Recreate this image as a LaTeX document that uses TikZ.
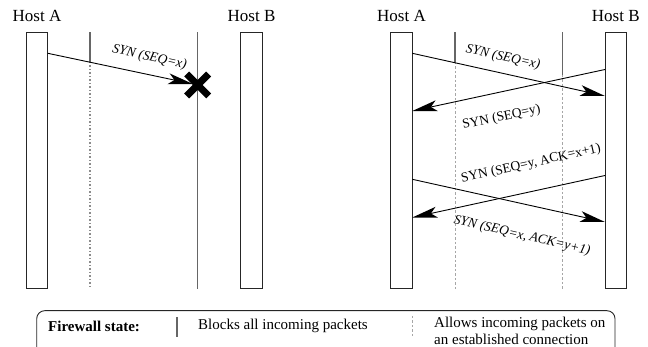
\documentclass[tikz,border=0pt]{standalone}
\usepackage{fontspec}
\setmainfont{Liberation Serif}
\usetikzlibrary{calc}
\begin{document}
\begin{tikzpicture}[x=1pt,y=-1pt,
  hostbar/.style={draw=black!85,line width=0.9pt,fill=white,minimum width=21.6pt,minimum height=256.7pt,inner sep=0pt,outer sep=0pt},
  hostlabel/.style={font=\fontsize{17}{20}\selectfont,inner sep=0pt},
  fwsolid/.style={draw=black!60,line width=1.4pt},
  fwdot/.style={draw=black!45,line width=1.2pt,dash pattern=on 1.5pt off 2pt},
  fwdash/.style={draw=black!35,line width=0.8pt,dash pattern=on 2.5pt off 2pt},
  msg/.style={draw=black,line width=0.9pt,shorten >=10pt},
  tip/.style={fill=black,draw=none},
  lbl/.style={font=\fontsize{13.5}{16}\selectfont,inner sep=0pt},
  lgd/.style={font=\fontsize{15}{17}\selectfont,inner sep=0pt}
]
\useasboundingbox (0,0) rectangle (648,347);
% arrow from #1 to #2 with a dart-shaped head
\newcommand{\msgarrow}[2]{%
  \draw[msg] (#1) -- (#2);
  \fill[tip] (#2) -- ($(#2)!25pt!(#1)!5.5pt!90:(#1)$) -- ($(#2)!19pt!(#1)$) -- ($(#2)!25pt!(#1)!5.5pt!-90:(#1)$) -- cycle;}
% ---------- left diagram ----------
\node[hostbar] (LA) at (37,160.6) {};
\node[hostbar] (LB) at (251.5,160.6) {};
\node[hostlabel] (LAl) at (37,16) {Host A};
\node[hostlabel] (LBl) at (251.5,16) {Host B};
\coordinate (lf1t) at (90,32.3);
\coordinate (lf1m) at (90,62);
\coordinate (lf1b) at (90,289);
\coordinate (lf2t) at (197.7,32.3);
\coordinate (lf2b) at (197.7,289);
\draw[fwsolid] (lf1t) -- (lf1m);
\draw[fwdot] (lf1m) -- (lf1b);
\draw[fwsolid] (lf2t) -- (lf2b);
\coordinate (ls) at (47.8,53.3);
\coordinate (le) at (193,84);
\msgarrow{ls}{le}
\node[lbl,rotate=-12.5] (l1) at (149.5,57.5) {\itshape SYN (SEQ=x)};
\coordinate (X) at (197.7,85);
\draw[line width=7pt,black] ([shift={(-11,-11)}]X) -- ([shift={(11,11)}]X);
\draw[line width=7pt,black] ([shift={(-11,11)}]X) -- ([shift={(11,-11)}]X);
% ---------- right diagram ----------
\node[hostbar] (RA) at (401.5,160.6) {};
\node[hostbar] (RB) at (615.8,160.6) {};
\node[hostlabel] (RAl) at (401.5,16) {Host A};
\node[hostlabel] (RBl) at (615.8,16) {Host B};
\coordinate (rf1t) at (455,32.3);
\coordinate (rf1m) at (455,62);
\coordinate (rf1b) at (455,289);
\coordinate (rf2t) at (562.3,32.3);
\coordinate (rf2m) at (562.3,75);
\coordinate (rf2b) at (562.3,289);
\draw[fwsolid] (rf1t) -- (rf1m);
\draw[fwdash] (rf1m) -- (rf1b);
\draw[fwsolid] (rf2t) -- (rf2m);
\draw[fwdash] (rf2m) -- (rf2b);
\coordinate (a1s) at (412.3,53.3);
\coordinate (a1e) at (605,96);
\coordinate (a2s) at (605,69.5);
\coordinate (a2e) at (412.3,111);
\coordinate (a3s) at (412.3,179.3);
\coordinate (a3e) at (605,222);
\coordinate (a4s) at (605,175.5);
\coordinate (a4e) at (412.3,217.5);
\msgarrow{a1s}{a1e}
\msgarrow{a2s}{a2e}
\msgarrow{a3s}{a3e}
\msgarrow{a4s}{a4e}
\node[lbl,rotate=-12.5] (r1) at (503,57.5) {\itshape SYN (SEQ=x)};
\node[lbl,rotate=12] (r2) at (501.5,117.5) {SYN (SEQ=y)};
\node[lbl,rotate=12.5] (r3) at (531,164) {SYN (SEQ=y, ACK=x+1)};
\node[lbl,rotate=-13] (r4) at (522,236) {\itshape SYN (SEQ=x, ACK=y+1)};
% ---------- legend ----------
\draw[draw=black!85,line width=0.9pt,rounded corners=8pt] (36.7,310.7) rectangle (615,356);
\node[lgd,anchor=west] (lg1) at (48,326) {\bfseries Firewall state:};
\coordinate (lgs1) at (177,317);
\coordinate (lgs2) at (177,337);
\draw[fwsolid] (lgs1) -- (lgs2);
\node[lgd,anchor=west] (lg2) at (198,326) {Blocks all incoming packets};
\coordinate (lgd1) at (412,316);
\coordinate (lgd2) at (412,338);
\draw[fwdash] (lgd1) -- (lgd2);
\node[lgd,anchor=west,align=left] (lg3) at (434,330.5) {Allows incoming packets on\\an established connection};
\end{tikzpicture}
\end{document}
